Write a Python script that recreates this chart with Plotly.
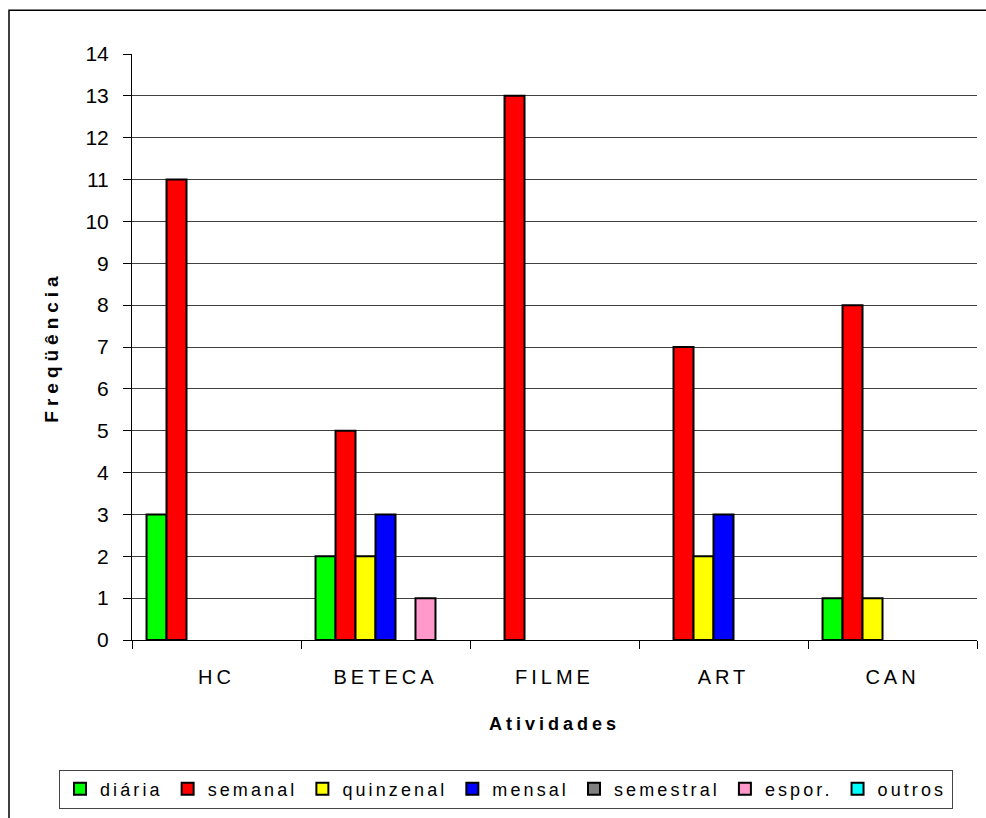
import plotly.graph_objects as go

categories = ["HC", "BETECA", "FILME", "ART", "CAN"]
series_names = ["diária", "semanal", "quinzenal", "mensal", "semestral", "espor.", "outros"]
diaria = [3, 2, 0, 0, 1]
semanal = [11, 5, 13, 7, 8]
quinzenal = [0, 2, 0, 2, 1]
mensal = [0, 3, 0, 3, 0]
semestral = [0, 0, 0, 0, 0]
espor = [0, 1, 0, 0, 0]
outros = [0, 0, 0, 0, 0]
series_values = [diaria, semanal, quinzenal, mensal, semestral, espor, outros]
colors = ["#00FF00", "#FF0000", "#FFFF00", "#0000FF", "#808080", "#FF99CC", "#00FFFF"]
y_ticks = list(range(0, 15))

FONT = "Liberation Sans, Arial, sans-serif"


def spaced(text, ls, bold=False):
    t = f'<span style="letter-spacing:{ls}px">{text}</span>'
    return f"<b>{t}</b>" if bold else t


fig = go.Figure()
for name, vals, col in zip(series_names, series_values, colors):
    fig.add_trace(go.Bar(
        name=spaced(name, 3.1), x=categories,
        y=[v if v else None for v in vals],
        marker=dict(color=col, line=dict(color="black", width=2)),
    ))

W, H = 986, 818
L, R, T, B = 132, 9, 54, 176
pw, ph = W - L - R, H - T - B


def px_x(x):
    return (x - L) / pw


def px_y(y):
    return (H - B - y) / ph


fig.update_layout(
    width=W, height=H,
    margin=dict(l=L, r=R, t=T, b=B, pad=0),
    paper_bgcolor="white", plot_bgcolor="white",
    barmode="group", bargap=0.172, bargroupgap=0,
    font=dict(family=FONT, color="black", size=20),
    showlegend=True,
    legend=dict(
        orientation="h", x=px_x(59), y=px_y(772), xanchor="left", yanchor="top",
        bordercolor="#444444", borderwidth=1, bgcolor="white",
        font=dict(family=FONT, size=18, color="black"),
        itemwidth=30, tracegroupgap=0,
    ),
    xaxis=dict(
        showline=True, linecolor="black", linewidth=1,
        ticks="outside", tickson="boundaries", ticklen=8, tickcolor="black",
        tickvals=categories, ticktext=[spaced(c, 4) for c in categories],
        tickfont=dict(family=FONT, size=20),
        ticklabelstandoff=19,
        title=dict(text=spaced("Atividades", 4, bold=True),
                   font=dict(family=FONT, size=18), standoff=30),
        showgrid=False, zeroline=False,
    ),
    yaxis=dict(
        range=[0, 14], tickvals=y_ticks, ticktext=[str(v) for v in y_ticks],
        showline=True, linecolor="black", linewidth=1,
        ticks="outside", ticklen=8, tickcolor="black",
        tickfont=dict(family=FONT, size=21),
        ticklabelstandoff=10,
        showgrid=True, gridcolor="#404040", gridwidth=1,
        zeroline=False,
        title=dict(text=spaced("Freqüência", 5, bold=True),
                   font=dict(family=FONT, size=19), standoff=21),
    ),
    shapes=[dict(
        type="rect", xref="paper", yref="paper",
        x0=px_x(9), x1=px_x(995), y0=px_y(830), y1=px_y(10),
        line=dict(color="black", width=1.5), fillcolor="rgba(0,0,0,0)", layer="below",
    )],
)

fig.write_html(
    "out.html",
    config={"displayModeBar": False},
    post_script="document.body.style.margin='0';document.body.style.overflow='hidden';",
)
